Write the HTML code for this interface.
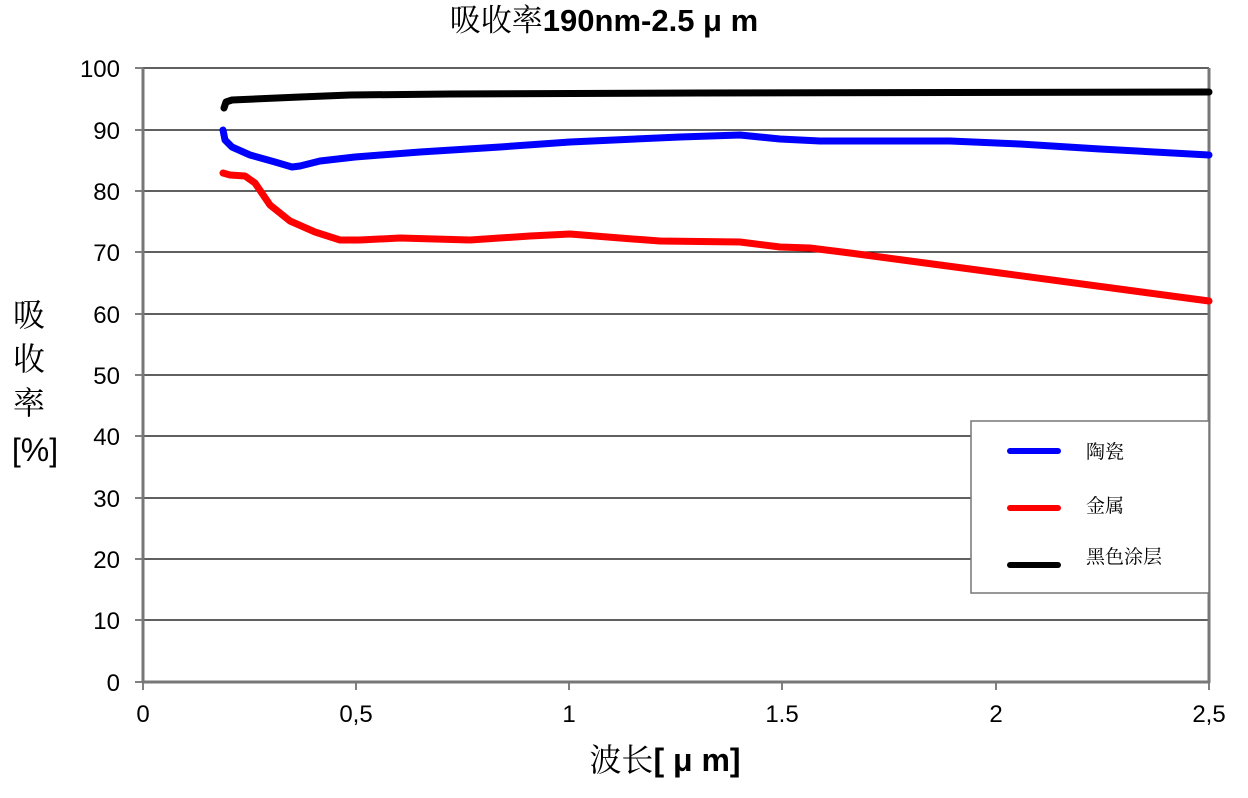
<!DOCTYPE html>
<html><head><meta charset="utf-8"><style>body{margin:0;background:#fff}</style></head><body>
<svg width="1248" height="793" xmlns="http://www.w3.org/2000/svg" font-family="Liberation Sans, Noto Sans CJK SC, sans-serif">
<rect width="1248" height="793" fill="#fff"/>
<text x="604" y="31" text-anchor="middle" font-size="31" font-weight="bold"><tspan font-family="Noto Serif CJK SC, serif" font-weight="normal">吸收率</tspan>190nm-2.5 μ m</text>
<g stroke="#000" stroke-width="1.2">
<line x1="143" y1="68" x2="1209" y2="68"/><line x1="143" y1="130" x2="1209" y2="130"/>
<line x1="143" y1="191" x2="1209" y2="191"/><line x1="143" y1="252" x2="1209" y2="252"/>
<line x1="143" y1="314" x2="1209" y2="314"/><line x1="143" y1="375" x2="1209" y2="375"/>
<line x1="143" y1="436" x2="1209" y2="436"/><line x1="143" y1="498" x2="1209" y2="498"/>
<line x1="143" y1="559" x2="1209" y2="559"/><line x1="143" y1="620" x2="1209" y2="620"/>
</g>
<g stroke="#000" stroke-width="1">
<line x1="135" y1="68" x2="143" y2="68"/><line x1="135" y1="130" x2="143" y2="130"/><line x1="135" y1="191" x2="143" y2="191"/><line x1="135" y1="252" x2="143" y2="252"/><line x1="135" y1="314" x2="143" y2="314"/><line x1="135" y1="375" x2="143" y2="375"/><line x1="135" y1="436" x2="143" y2="436"/><line x1="135" y1="498" x2="143" y2="498"/><line x1="135" y1="559" x2="143" y2="559"/><line x1="135" y1="620" x2="143" y2="620"/><line x1="135" y1="682" x2="143" y2="682"/>
<line x1="143" y1="682" x2="143" y2="690"/><line x1="356" y1="682" x2="356" y2="690"/><line x1="569" y1="682" x2="569" y2="690"/><line x1="782" y1="682" x2="782" y2="690"/><line x1="996" y1="682" x2="996" y2="690"/><line x1="1209" y1="682" x2="1209" y2="690"/>
</g>
<line x1="143" y1="68" x2="143" y2="683" stroke="#777" stroke-width="3"/>
<line x1="1209" y1="68" x2="1209" y2="683" stroke="#777" stroke-width="3"/>
<line x1="142" y1="682" x2="1210" y2="682" stroke="#777" stroke-width="3"/>
<g font-size="24" text-anchor="end">
<text x="120" y="77">100</text><text x="120" y="139">90</text><text x="120" y="200">80</text><text x="120" y="261">70</text><text x="120" y="323">60</text><text x="120" y="384">50</text><text x="120" y="445">40</text><text x="120" y="507">30</text><text x="120" y="568">20</text><text x="120" y="629">10</text><text x="120" y="691">0</text>
</g>
<g font-size="24" text-anchor="middle">
<text x="143" y="722">0</text><text x="356" y="722">0,5</text><text x="569" y="722">1</text><text x="782" y="722">1.5</text><text x="996" y="722">2</text><text x="1209" y="722">2,5</text>
</g>
<g font-size="32" text-anchor="middle" font-family="Noto Serif CJK SC, serif">
<text x="29" y="326">吸</text><text x="29" y="370">收</text><text x="29" y="414">率</text>
</g>
<text x="35" y="461" font-size="32" text-anchor="middle">[%]</text>
<text x="665" y="771" font-size="32" text-anchor="middle"><tspan font-family="Noto Serif CJK SC, serif">波长</tspan><tspan font-weight="bold">[ μ m]</tspan></text>
<g fill="none" stroke-width="7" stroke-linecap="round" stroke-linejoin="round">
<path stroke="#000" d="M224,108 L226,102 L232,100 L300,97 L350,95 L450,94 L700,93 L1209,92"/>
<path stroke="#00f" d="M223,130 L225,140 L232,147 L250,155 L275,162 L292,167 L300,166 L320,161 L355,157 L420,152 L500,147 L570,142 L680,137 L740,135 L780,139 L820,141 L950,141 L1020,144 L1100,149 L1209,155"/>
<path stroke="#f00" d="M223,173 L230,175 L245,176 L255,183 L270,205 L290,221 L315,232 L340,240 L360,240 L400,238 L470,240 L530,236 L570,234 L620,238 L660,241 L740,242 L780,247 L810,248 L850,253 L1000,273 L1209,301"/>
</g>
<rect x="971" y="421" width="238" height="172" fill="#fff" stroke="#777" stroke-width="1.5"/>
<g stroke-width="6" stroke-linecap="round">
<line x1="1010" y1="451" x2="1058" y2="451" stroke="#00f"/>
<line x1="1010" y1="508" x2="1058" y2="508" stroke="#f00"/>
<line x1="1010" y1="565" x2="1058" y2="565" stroke="#000"/>
</g>
<g font-size="19" font-family="Noto Serif CJK SC, serif">
<text x="1086" y="458">陶瓷</text><text x="1086" y="512">金属</text><text x="1086" y="563">黑色涂层</text>
</g>
</svg>
</body></html>
